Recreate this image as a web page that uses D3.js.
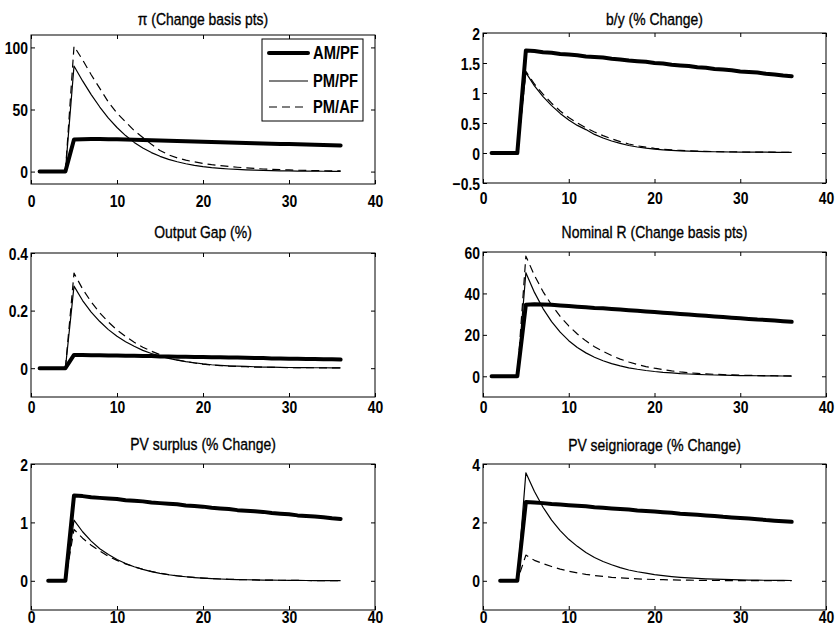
<!DOCTYPE html>
<html><head><meta charset="utf-8">
<script src="https://cdn.jsdelivr.net/npm/d3@7"></script>
<style>body{margin:0;background:#fff}</style>
</head><body><svg id="c" width="838" height="637"></svg>
<script>
// ---------- data ----------
const xTop = [1,2,3,4,5,6,7,8,9,10,11,12,13,14,15,16,17,18,19,20,21,22,23,24,25,26,27,28,29,30,31,32,33,34,35,36];
const xBottom = [2,3,4,5,6,7,8,9,10,11,12,13,14,15,16,17,18,19,20,21,22,23,24,25,26,27,28,29,30,31,32,33,34,35,36];
const seriesNames = ["AM/PF","PM/PF","PM/AF"];
const titles = ["\u03c0 (Change basis pts)","b/y (% Change)","Output Gap (%)","Nominal R (Change basis pts)","PV surplus (% Change)","PV seigniorage (% Change)"];
const xTicks = [0,10,20,30,40];
const xDomain = [0,40];
const yDomains = [[-10,110],[-0.5,2],[-0.1,0.4],[-10,60],[-0.5,2],[-1,4]];
const yTicks = [[0,50,100],[-0.5,0,0.5,1,1.5,2],[0,0.2,0.4],[0,20,40,60],[0,1,2],[0,2,4]];

// pi (change basis pts)
const piAM   = [0,0,0,0,25.8,26.1,26.2,26.2,26.1,26.0,25.8,25.6,25.4,25.2,25.0,24.8,24.6,24.4,24.2,24.0,23.8,23.6,23.4,23.3,23.1,22.9,22.7,22.5,22.3,22.2,22.0,21.8,21.6,21.5,21.3,21.1];
const piPMPF = [0,0,0,0,85,73,62,52,43,35.5,29,23.5,19,15.3,12.3,9.8,7.9,6.3,5.0,4.0,3.2,2.6,2.1,1.7,1.4,1.1,0.9,0.75,0.6,0.5,0.4,0.35,0.3,0.25,0.2,0.2];
const piPMAF = [0,0,0,0,101,90,78,67,56,47,40,33,27.5,22,17,13.5,11,9.2,7.8,6.6,5.6,4.8,4.1,3.5,3.0,2.5,2.1,1.8,1.5,1.3,1.1,0.9,0.8,0.7,0.6,0.5];
// b/y (% change)
const byAM   = [0,0,0,0,1.71,1.70,1.68,1.67,1.65,1.64,1.63,1.61,1.60,1.59,1.57,1.56,1.54,1.53,1.52,1.50,1.49,1.47,1.46,1.45,1.43,1.42,1.40,1.39,1.38,1.36,1.35,1.34,1.32,1.31,1.29,1.28];
const byPMPF = [0,0,0,0,1.34,1.12,0.94,0.79,0.66,0.55,0.46,0.39,0.31,0.25,0.20,0.16,0.125,0.10,0.08,0.065,0.053,0.044,0.037,0.031,0.027,0.024,0.021,0.019,0.017,0.016,0.015,0.014,0.013,0.012,0.012,0.011];
const byPMAF = [0,0,0,0,1.36,1.15,0.98,0.83,0.70,0.59,0.50,0.42,0.35,0.29,0.235,0.19,0.15,0.12,0.097,0.078,0.063,0.052,0.043,0.036,0.031,0.027,0.024,0.021,0.019,0.017,0.016,0.015,0.014,0.013,0.012,0.012];
// output gap (%)
const gapAM   = [0,0,0,0,0.046,0.046,0.045,0.045,0.044,0.044,0.043,0.043,0.042,0.042,0.041,0.041,0.040,0.040,0.039,0.039,0.038,0.038,0.037,0.037,0.036,0.035,0.035,0.034,0.034,0.033,0.033,0.032,0.032,0.031,0.031,0.030];
const gapPMPF = [0,0,0,0,0.285,0.235,0.195,0.162,0.134,0.111,0.092,0.076,0.062,0.051,0.042,0.034,0.028,0.023,0.019,0.015,0.012,0.010,0.008,0.007,0.006,0.005,0.004,0.0035,0.003,0.0025,0.002,0.002,0.0015,0.0015,0.001,0.001];
const gapPMAF = [0,0,0,0,0.33,0.275,0.23,0.192,0.16,0.133,0.11,0.09,0.073,0.059,0.047,0.037,0.029,0.023,0.018,0.014,0.011,0.009,0.0075,0.006,0.005,0.004,0.0035,0.003,0.0025,0.002,0.002,0.0015,0.0015,0.001,0.001,0.001];
// nominal R (change basis pts)
const rAM   = [0,0,0,0,34.5,34.8,34.7,34.5,34.2,33.9,33.6,33.3,33.0,32.8,32.5,32.2,31.9,31.6,31.3,31.0,30.7,30.4,30.1,29.8,29.5,29.2,28.9,28.6,28.3,28.0,27.7,27.4,27.2,26.9,26.6,26.3];
const rPMPF = [0,0,0,0,50,40.5,32.7,26.4,21.3,17.2,13.9,11.3,9.2,7.5,6.1,5.0,4.1,3.4,2.8,2.3,1.9,1.6,1.3,1.1,0.9,0.75,0.62,0.52,0.43,0.36,0.3,0.25,0.21,0.18,0.15,0.12];
const rPMAF = [0,0,0,0,58,48.7,40.9,34.4,28.9,24.3,20.4,17.1,14.3,12.0,10.0,8.3,6.9,5.7,4.7,3.9,3.2,2.6,2.1,1.7,1.4,1.15,0.95,0.78,0.64,0.53,0.44,0.36,0.3,0.25,0.2,0.17];
// PV surplus (% change), quarters 2..36
const svAM   = [0,0,0,1.46,1.45,1.43,1.42,1.41,1.40,1.38,1.37,1.36,1.34,1.33,1.32,1.31,1.29,1.28,1.27,1.25,1.24,1.23,1.21,1.20,1.19,1.18,1.16,1.15,1.14,1.12,1.11,1.10,1.09,1.07,1.06];
const svPMPF = [0,0,0,1.04,0.84,0.68,0.55,0.45,0.365,0.295,0.24,0.195,0.158,0.128,0.104,0.085,0.069,0.056,0.046,0.038,0.031,0.026,0.021,0.018,0.015,0.012,0.01,0.009,0.007,0.006,0.005,0.004,0.004,0.003,0.003];
const svPMAF = [0,0,0,0.88,0.73,0.61,0.51,0.42,0.35,0.29,0.24,0.197,0.16,0.13,0.106,0.086,0.07,0.057,0.047,0.038,0.031,0.026,0.021,0.018,0.015,0.012,0.01,0.009,0.007,0.006,0.005,0.004,0.004,0.003,0.003];
// PV seigniorage (% change), quarters 2..36
const sgAM   = [0,0,0,2.70,2.68,2.66,2.63,2.61,2.59,2.57,2.55,2.52,2.50,2.48,2.46,2.44,2.41,2.39,2.37,2.35,2.33,2.30,2.28,2.26,2.24,2.22,2.19,2.17,2.15,2.13,2.11,2.08,2.06,2.04,2.02];
const sgPMPF = [0,0,0,3.7,3.06,2.52,2.08,1.72,1.42,1.18,0.97,0.80,0.66,0.55,0.45,0.37,0.31,0.26,0.21,0.175,0.145,0.12,0.098,0.081,0.067,0.055,0.046,0.038,0.031,0.026,0.021,0.018,0.015,0.012,0.01];
const sgPMAF = [0,0,0,0.88,0.70,0.59,0.49,0.40,0.33,0.27,0.22,0.18,0.15,0.12,0.10,0.082,0.067,0.055,0.045,0.037,0.03,0.025,0.02,0.017,0.014,0.011,0.009,0.008,0.006,0.005,0.004,0.004,0.003,0.003,0.002];

const panelData = [
  {x:xTop, s:[piAM,piPMPF,piPMAF]},
  {x:xTop, s:[byAM,byPMPF,byPMAF]},
  {x:xTop, s:[gapAM,gapPMPF,gapPMAF]},
  {x:xTop, s:[rAM,rPMPF,rPMAF]},
  {x:xBottom, s:[svAM,svPMPF,svPMAF]},
  {x:xBottom, s:[sgAM,sgPMPF,sgPMAF]}
];

// ---------- layout / style ----------
const layout = [
  {x:[31,375], y:[35,184], titleY:25, xlabY:207},
  {x:[483,826], y:[33,183], titleY:25, xlabY:204},
  {x:[31,375], y:[253,397], titleY:238, xlabY:413},
  {x:[483,826], y:[252,397], titleY:238, xlabY:413},
  {x:[31,375], y:[464,610], titleY:450, xlabY:623},
  {x:[483,826], y:[464,610], titleY:451, xlabY:623}
];
const FONT = "'Liberation Sans', Arial, Helvetica, sans-serif";
const SX = 0.82;   // narrow face
const styles = [
  {w:4, dash:null},
  {w:1.2, dash:null},
  {w:1.2, dash:"8,5"}
];

const svg = d3.select("#c");
svg.append("rect").attr("width",838).attr("height",637).attr("fill","#fff");

function fmt(v){ return d3.format("")(v); }

layout.forEach((L,i)=>{
  const g = svg.append("g");
  const xs = d3.scaleLinear().domain(xDomain).range(L.x);
  const ys = d3.scaleLinear().domain(yDomains[i]).range([L.y[1], L.y[0]]);

  // title
  g.append("text")
    .attr("transform",`translate(${(L.x[0]+L.x[1])/2},${L.titleY}) scale(${SX},1)`)
    .attr("text-anchor","middle")
    .style("font-family",FONT).style("font-size","17px")
    .attr("fill","#000").attr("stroke","#000").attr("stroke-width",0.35)
    .text(titles[i]);

  // lines
  const pd = panelData[i];
  const line = d3.line().x((d,k)=>xs(pd.x[k])).y(d=>ys(d));
  pd.s.forEach((arr,j)=>{
    g.append("path").datum(arr).attr("d",line)
      .attr("fill","none").attr("stroke","#000")
      .attr("stroke-width",styles[j].w)
      .attr("stroke-linejoin","round").attr("stroke-linecap", j===0?"round":"butt")
      .attr("stroke-dasharray",styles[j].dash);
  });

  // axes
  const axB = g.append("g").attr("transform",`translate(0,${L.y[1]})`)
    .call(d3.axisBottom(xs).tickValues(xTicks).tickSizeInner(-4).tickSizeOuter(0).tickFormat(d3.format("d")));
  axB.selectAll("text").attr("y", L.xlabY - L.y[1]).attr("dy",0)
    .attr("transform",`scale(${SX},1)`)
    .style("font-family",FONT).style("font-size","17px").style("font-weight","bold").attr("fill","#000");
  const axT = g.append("g").attr("transform",`translate(0,${L.y[0]})`)
    .call(d3.axisTop(xs).tickValues(xTicks).tickSizeInner(-4).tickSizeOuter(0).tickFormat(""));
  const axL = g.append("g").attr("transform",`translate(${L.x[0]},0)`)
    .call(d3.axisLeft(ys).tickValues(yTicks[i]).tickSizeInner(-4).tickSizeOuter(0).tickFormat(fmt));
  axL.selectAll("text").attr("x", -3/SX).attr("dy","0.36em")
    .attr("transform",`scale(${SX},1)`)
    .style("font-family",FONT).style("font-size","17px").style("font-weight","bold").attr("fill","#000");
  const axR = g.append("g").attr("transform",`translate(${L.x[1]},0)`)
    .call(d3.axisRight(ys).tickValues(yTicks[i]).tickSizeInner(-4).tickSizeOuter(0).tickFormat(""));
  [axB,axT,axL,axR].forEach(a=>{ a.select(".domain").remove(); a.selectAll("line").attr("stroke","#000"); });

  // box
  g.append("rect").attr("x",L.x[0]).attr("y",L.y[0])
    .attr("width",L.x[1]-L.x[0]).attr("height",L.y[1]-L.y[0])
    .attr("fill","none").attr("stroke","#000").attr("stroke-width",1);

  // legend in the first panel
  if(i===0){
    const lg = g.append("g");
    lg.append("rect").attr("x",262).attr("y",39).attr("width",101).attr("height",82)
      .attr("fill","#fff").attr("stroke","#000").attr("stroke-width",1);
    const rows = [53,81,107];
    seriesNames.forEach((nm,j)=>{
      lg.append("line").attr("x1",269).attr("x2",308).attr("y1",rows[j]).attr("y2",rows[j])
        .attr("stroke","#000").attr("stroke-width",styles[j].w)
        .attr("stroke-linecap", j===0?"round":"butt")
        .attr("stroke-dasharray",styles[j].dash);
      lg.append("text").attr("transform",`translate(313,${rows[j]+6}) scale(${SX},1)`)
        .style("font-family",FONT).style("font-size","18px").style("font-weight","bold")
        .attr("fill","#000").text(nm);
    });
  }
});
</script></body></html>
